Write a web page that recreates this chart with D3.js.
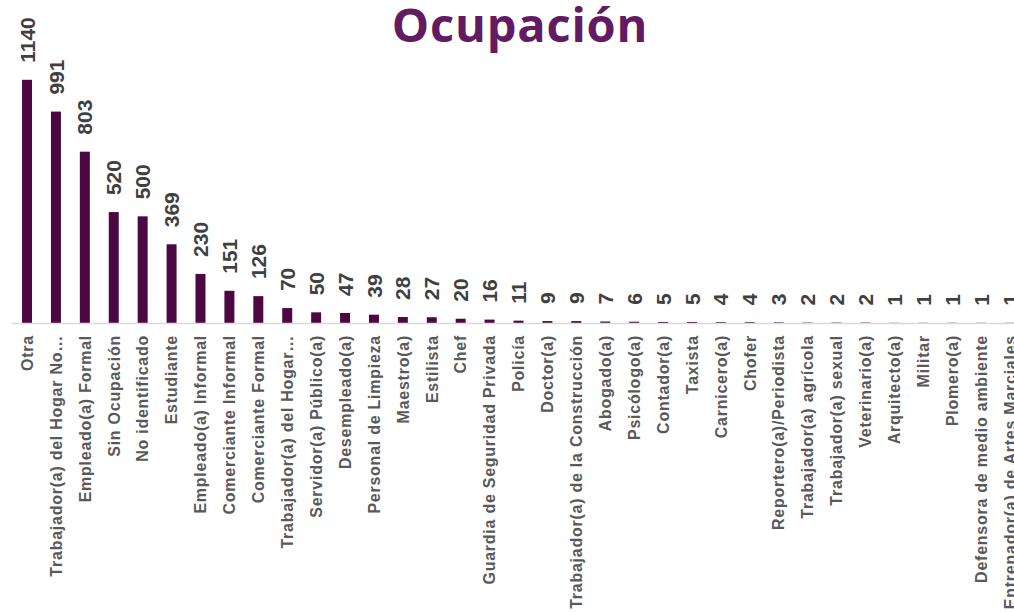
<!DOCTYPE html>
<html>
<head>
<meta charset="utf-8">
<script src="https://cdn.jsdelivr.net/npm/d3@7"></script>
<style>
  body { margin: 0; background: #fff; }
  svg { display: block; }
</style>
</head>
<body>
<svg id="chart"></svg>
<script>
var categories = ["Otra", "Trabajador(a) del Hogar No…", "Empleado(a) Formal", "Sin Ocupación",
  "No identificado", "Estudiante", "Empleado(a) Informal", "Comerciante Informal",
  "Comerciante Formal", "Trabajador(a) del Hogar…", "Servidor(a) Público(a)", "Desempleado(a)",
  "Personal de Limpieza", "Maestro(a)", "Estilista", "Chef", "Guardia de Seguridad Privada",
  "Policía", "Doctor(a)", "Trabajador(a) de la Construcción", "Abogado(a)", "Psicólogo(a)",
  "Contador(a)", "Taxista", "Carnicero(a)", "Chofer", "Reportero(a)/Periodista",
  "Trabajador(a) agrícola", "Trabajador(a) sexual", "Veterinario(a)", "Arquitecto(a)",
  "Militar", "Plomero(a)", "Defensora de medio ambiente", "Entrenador(a) de Artes Marciales"];
var values = [1140, 991, 803, 520, 500, 369, 230, 151, 126, 70, 50, 47, 39, 28, 27, 20, 16,
  11, 9, 9, 7, 6, 5, 5, 4, 4, 3, 2, 2, 2, 1, 1, 1, 1, 1];
var title = "Ocupación";

var W = 1014, H = 612;
var baseY = 323;

var data = categories.map(function(c, i){ return {cat: c, val: values[i]}; });

var svg = d3.select("#chart").attr("width", W).attr("height", H);

var x = d3.scaleBand().domain(categories).range([12.5, 1024.5]).paddingInner(0.655).paddingOuter(0.33);
var y = d3.scaleLinear().domain([0, 1500]).range([baseY, 3]);

svg.append("text")
  .attr("x", 520).attr("y", 42)
  .attr("text-anchor", "middle")
  .attr("font-family", "'Open Sans', sans-serif")
  .attr("font-weight", "bold")
  .attr("font-size", 47)
  .attr("letter-spacing", 0.8)
  .attr("fill", "#621B62")
  .text(title);

svg.selectAll("rect.bar").data(data).enter().append("rect")
  .attr("class", "bar")
  .attr("x", function(d){ return x(d.cat); })
  .attr("y", function(d){ return y(d.val); })
  .attr("width", x.bandwidth())
  .attr("height", function(d){ return baseY - y(d.val); })
  .attr("fill", "#4B0843");

// baseline
svg.append("line")
  .attr("x1", 12).attr("x2", W)
  .attr("y1", baseY + 0.5).attr("y2", baseY + 0.5)
  .attr("stroke", "#d9d9d9").attr("stroke-width", 1.5);

// value labels
svg.selectAll("text.val").data(data).enter().append("text")
  .attr("class", "val")
  .attr("transform", function(d){
    return "translate(" + (x(d.cat) + x.bandwidth() / 2) + "," + (y(d.val) - 17) + ") rotate(-90)";
  })
  .attr("dy", "0.36em")
  .attr("font-family", "'Liberation Sans', Arial, sans-serif")
  .attr("font-weight", "bold")
  .attr("font-size", 21)
  .attr("fill", "#404040")
  .text(function(d){ return d.val; });

// category labels
svg.selectAll("text.cat").data(data).enter().append("text")
  .attr("class", "cat")
  .attr("transform", function(d){
    return "translate(" + (x(d.cat) + x.bandwidth() / 2) + "," + (baseY + 12) + ") rotate(-90)";
  })
  .attr("dy", "0.36em")
  .attr("text-anchor", "end")
  .attr("font-family", "'Liberation Sans', Arial, sans-serif")
  .attr("font-weight", "bold")
  .attr("font-size", 16)
  .attr("letter-spacing", 0.75)
  .attr("fill", "#595959")
  .text(function(d){ return d.cat; });
</script>
</body>
</html>
